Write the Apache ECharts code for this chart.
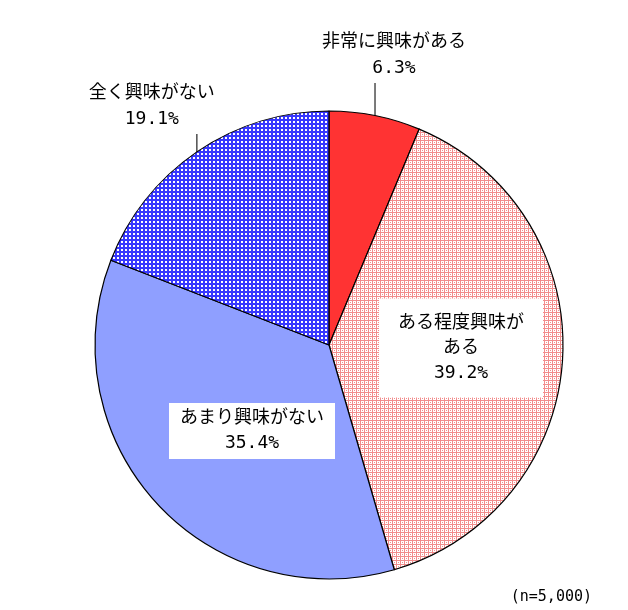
<!DOCTYPE html>
<html><head><meta charset="utf-8">
<script src="https://cdn.jsdelivr.net/npm/echarts@6/dist/echarts.min.js"></script>
<style>html,body{margin:0;padding:0;background:#fff}#c{width:628px;height:610px}</style>
</head><body><div id="c"></div>
<script>
const categories = ['非常に興味がある', 'ある程度興味がある', 'あまり興味がない', '全く興味がない'];
const labelNames = ['非常に興味がある', 'ある程度興味が\nある', 'あまり興味がない', '全く興味がない'];
const values = [6.3, 39.2, 35.4, 19.1];
const sampleNote = '(n=5,000)';

function tile(bg, fg, rects) {
  const c = document.createElement('canvas');
  c.width = 4; c.height = 4;
  const g = c.getContext('2d');
  g.fillStyle = bg; g.fillRect(0, 0, 4, 4);
  g.fillStyle = fg;
  rects.forEach(r => g.fillRect(r[0], r[1], r[2], r[3]));
  return c;
}
const bluePat = tile('#3838ff', '#ffffff', [[1,1,2,2]]);
const pinkPat = tile('#ffffff', '#f28c8c', [[0,0,4,1],[0,0,1,4],[2,2,1,1]]);

const fills = [
  '#ff3333',
  { image: pinkPat, repeat: 'repeat' },
  '#8f9fff',
  { image: bluePat, repeat: 'repeat' }
];
const FONT = "'DejaVu Sans Mono', 'Noto Sans CJK JP', sans-serif";

const chart = echarts.init(document.getElementById('c'), null, { renderer: 'canvas' });
const outsideLabel = { show: true, position: 'outside', color: '#000', fontSize: 18, fontFamily: FONT, lineHeight: 26, align: 'center' };
const boxLabel = (pad) => ({ show: true, position: 'inside', color: '#000', fontSize: 18, fontFamily: FONT, lineHeight: 25, align: 'center', backgroundColor: '#fff', padding: pad });
const labelCfg = [
  outsideLabel,
  boxLabel([12, 19]),
  boxLabel([3, 11]),
  outsideLabel
];
const layoutCfg = [
  { dx: 19, yBottom: 81, line: true },
  { x: 461, y: 348 },
  { x: 252, y: 431 },
  { dx: -45, yBottom: 132, line: true }
];

chart.setOption({
  animation: false,
  backgroundColor: '#fff',
  graphic: [{
    type: 'text', right: 36, top: 590,
    style: { text: sampleNote, fontSize: 15, fontFamily: FONT, fill: '#000' }
  }],
  series: [{
    type: 'pie',
    center: [329, 345],
    radius: 234,
    startAngle: 90,
    clockwise: true,
    data: categories.map((n, i) => ({
      name: n, value: values[i],
      itemStyle: { color: fills[i] },
      label: labelCfg[i],
      labelLine: { show: !!layoutCfg[i].line, lineStyle: { color: '#222', width: 1.2 } }
    })),
    label: {
      formatter: (p) => labelNames[p.dataIndex] + '\n' + values[p.dataIndex].toFixed(1) + '%'
    },
    itemStyle: { borderColor: '#000', borderWidth: 1.2 },
    labelLayout: function (p) {
      const L = layoutCfg[p.dataIndex];
      if (L.line) {
        const p0 = p.labelLinePoints[0];
        return {
          x: p0[0] + L.dx, y: L.yBottom, align: 'center', verticalAlign: 'bottom',
          labelLinePoints: [p0, [p0[0], L.yBottom + 2], [p0[0], L.yBottom + 2]]
        };
      }
      return { x: L.x, y: L.y, align: 'center', verticalAlign: 'middle' };
    }
  }]
});
</script></body></html>
